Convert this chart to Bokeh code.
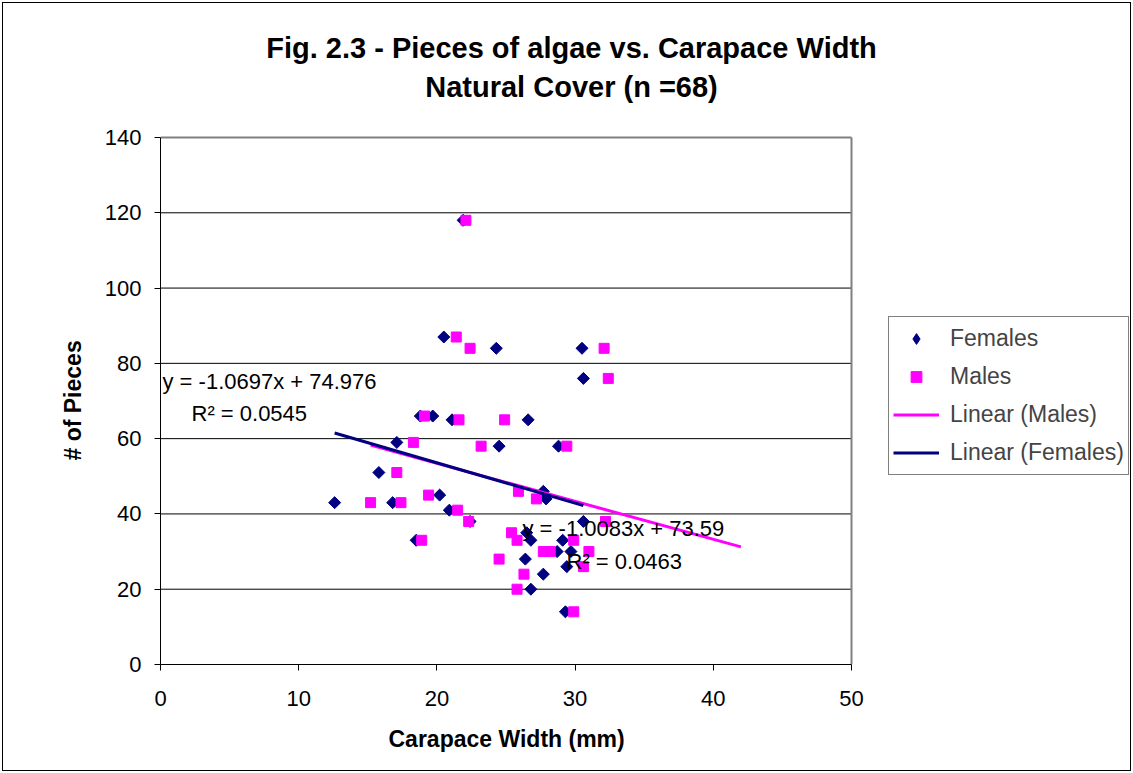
import math
from bokeh.plotting import figure
from bokeh.models import Range1d, Label, Legend, LegendItem, FixedTicker, Title
from bokeh.embed import file_html
from bokeh.resources import INLINE

# ---- data ----
female_cw = [12.6, 15.8, 16.8, 17.1, 18.5, 18.8, 19.7, 20.2, 20.5, 20.9, 21.1, 21.9,
             22.4, 24.3, 24.5, 26.6, 26.5, 26.8, 26.4, 26.8, 27.7, 27.7, 27.9, 28.7,
             28.8, 29.1, 29.3, 29.4, 29.7, 30.5, 30.6, 30.6]
female_pieces = [43, 51, 43, 59, 33, 66, 66, 45, 87, 41, 65, 118,
                 38, 84, 58, 65, 35, 33, 28, 20, 24, 46, 44, 30,
                 58, 33, 14, 26, 30, 84, 76, 38]

male_cw = [15.2, 17.1, 17.4, 18.3, 18.9, 19.1, 19.4, 21.4, 21.5, 21.6, 22.1, 22.3,
           22.4, 23.2, 24.5, 24.9, 25.4, 25.8, 25.8, 25.9, 26.3, 27.2, 27.7, 28.2,
           29.4, 29.9, 29.9, 30.6, 31.0, 32.1, 32.2, 32.4]
male_pieces = [43, 51, 43, 59, 33, 66, 45, 87, 41, 65, 118, 38,
               84, 58, 28, 65, 35, 33, 20, 46, 24, 44, 30, 30,
               58, 33, 14, 26, 30, 84, 38, 76]

# linear trendlines (Excel): slope, intercept, x extent
female_slope, female_intercept = -1.0697, 74.976
male_slope, male_intercept = -1.0083, 73.59
female_trend_x = [12.6, 30.6]
male_trend_x = [15.2, 42.0]

female_eq = ["y = -1.0697x + 74.976", "R\u00b2 = 0.0545"]
male_eq = ["y = -1.0083x + 73.59", "R\u00b2 = 0.0463"]

title_lines = ["Fig. 2.3 - Pieces of algae vs. Carapace Width", "Natural Cover (n =68)"]
x_label = "Carapace Width (mm)"
y_label = "# of Pieces"
x_ticks = [0, 10, 20, 30, 40, 50]
y_ticks = [0, 20, 40, 60, 80, 100, 120, 140]

NAVY = "#000080"
MAGENTA = "#FF00FF"
FONT = "Liberation Sans"

# ---- layout (pixels) ----
W, H = 1133, 773
PLOT_LEFT, PLOT_RIGHT, PLOT_TOP, PLOT_BOTTOM = 160, 851, 137, 664
x_min, x_max = x_ticks[0], x_ticks[-1]
y_min, y_max = y_ticks[0], y_ticks[-1]
# the frame spans the whole canvas right of / above the axes so that legend,
# title and equations (annotations) are not clipped
x_end = x_min + (x_max - x_min) * (W - PLOT_LEFT) / (PLOT_RIGHT - PLOT_LEFT)
y_end = y_min + (y_max - y_min) * PLOT_BOTTOM / (PLOT_BOTTOM - PLOT_TOP)
px_x = (x_max - x_min) / (PLOT_RIGHT - PLOT_LEFT)   # data units per pixel
px_y = (y_max - y_min) / (PLOT_BOTTOM - PLOT_TOP)

def sx(px):
    return x_min + (px - PLOT_LEFT) * px_x

def sy(py):
    return y_min + (PLOT_BOTTOM - py) * px_y

female_trend_y = [female_slope * x + female_intercept for x in female_trend_x]
male_trend_y = [male_slope * x + male_intercept for x in male_trend_x]

p = figure(width=W, height=H, output_backend="svg", toolbar_location=None,
           x_range=Range1d(x_min, x_end), y_range=Range1d(y_min, y_end),
           min_border_left=PLOT_LEFT, min_border_right=0,
           min_border_top=0, min_border_bottom=H - PLOT_BOTTOM)
p.title.text = ""
p.background_fill_alpha = 0
p.border_fill_alpha = 0
p.outline_line_color = None
p.styles = {"outline": "1px solid #000", "outline-offset": "-3px"}

p.xgrid.visible = False
p.ygrid.visible = False

p.xaxis.ticker = FixedTicker(ticks=x_ticks)
p.yaxis.ticker = FixedTicker(ticks=y_ticks)
p.xaxis.bounds = (x_min, x_max)
p.yaxis.bounds = (y_min, y_max)
for ax in (p.xaxis[0], p.yaxis[0]):
    ax.axis_line_color = "black"
    ax.major_tick_line_color = "black"
    ax.minor_tick_line_color = None
    ax.major_tick_in = 0
    ax.major_tick_out = 6
    ax.major_label_text_font = FONT
    ax.major_label_text_font_size = "22px"
    ax.major_label_text_color = "black"
p.xaxis.major_label_standoff = 20
p.yaxis.major_label_standoff = 13

# axis titles (centred on the plot area, not on the frame)
p.add_layout(Title(text=x_label, align="left", offset=228, vertical_align="top",
                   standoff=34, text_font=FONT, text_font_size="23px",
                   text_font_style="bold", text_color="black"), "below")
p.add_layout(Title(text=y_label, align="left", offset=204, vertical_align="bottom",
                   standoff=32, text_font=FONT, text_font_size="23px",
                   text_font_style="bold", text_color="black"), "left")

# horizontal gridlines and plot-area border (right and top edges, grey)
grid_y = y_ticks[1:-1]
p.segment(x0=[x_min] * len(grid_y), y0=grid_y, x1=[x_max] * len(grid_y), y1=grid_y,
          line_color="black", line_width=1)
p.segment(x0=[x_max, x_min], y0=[y_min, y_max], x1=[x_max, x_max], y1=[y_max, y_max],
          line_color="#808080", line_width=2)

rf = p.scatter(female_cw, female_pieces, marker="square", angle=math.pi / 4, size=8.5,
               fill_color=NAVY, line_color=NAVY)
rm = p.scatter(male_cw, male_pieces, marker="square", size=10,
               fill_color=MAGENTA, line_color=MAGENTA)
lm = p.line(male_trend_x, male_trend_y, line_color=MAGENTA, line_width=3)
lf = p.line(female_trend_x, female_trend_y, line_color=NAVY, line_width=3)
# legend swatch for the diamond markers (not drawn in the plot)
rf_key = p.scatter(female_cw[:1], female_pieces[:1], marker="diamond", size=12,
                   fill_color=NAVY, line_color=NAVY, visible=False)

# trendline equations (pixel positions)
for (tx, ty, txt) in [(sx(162), sy(381), female_eq[0]), (sx(191), sy(413), female_eq[1]),
                      (sx(522), sy(528), male_eq[0]), (sx(566), sy(561), male_eq[1])]:
    p.add_layout(Label(x=tx, y=ty, text=txt, text_font=FONT, text_font_size="22px",
                       text_color="black", text_baseline="alphabetic", text_align="left"))

# title
for (ty, txt) in [(sy(47), title_lines[0]), (sy(86), title_lines[1])]:
    p.add_layout(Label(x=sx(571), y=ty, text=txt, text_font=FONT, text_font_size="29px",
                       text_font_style="bold", text_color="black",
                       text_baseline="alphabetic", text_align="center"))

legend = Legend(items=[LegendItem(label="Females", renderers=[rf_key]),
                       LegendItem(label="Males", renderers=[rm]),
                       LegendItem(label="Linear (Males)", renderers=[lm]),
                       LegendItem(label="Linear (Females)", renderers=[lf])],
                location=(888 - PLOT_LEFT, PLOT_BOTTOM - 475),
                border_line_color="black", border_line_width=1,
                background_fill_color="white", background_fill_alpha=1,
                label_text_font=FONT, label_text_font_size="23px",
                glyph_width=46, glyph_height=27, label_height=35, spacing=3,
                padding=4, margin=0, label_standoff=11)
p.add_layout(legend, "center")

open("out.html", "w").write(file_html(p, INLINE))
